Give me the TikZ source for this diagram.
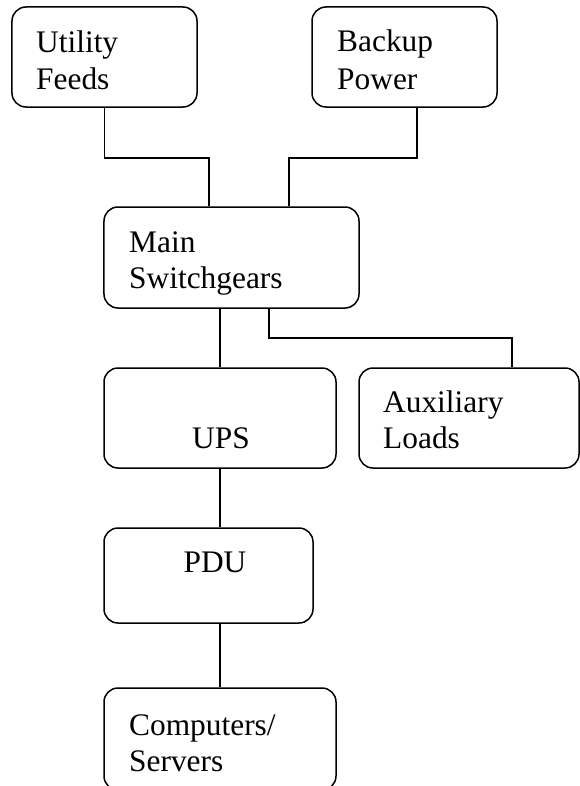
\documentclass[tikz,border=0pt]{standalone}
\usepackage{fontspec}
\setmainfont{Liberation Serif}
\begin{document}
\begin{tikzpicture}[x=1bp,y=-1bp,
  box/.style={draw=black, line width=1.5bp, rounded corners=14bp, rectangle, inner sep=0pt},
  lbl/.style={anchor=base west, inner sep=0pt, font=\fontsize{31.5}{37}\selectfont},
  clbl/.style={anchor=base, inner sep=0pt, font=\fontsize{31.5}{37}\selectfont},
  wire/.style={draw=black, line width=1.5bp}]
\useasboundingbox (0,0) rectangle (580,786);
\clip (0,0) rectangle (580,786);
% boxes
\node[box, minimum width=185bp, minimum height=100bp] (u) at (104.5,57) {};
\node[box, minimum width=185bp, minimum height=100bp] (b) at (404.5,57) {};
\node[box, minimum width=255bp, minimum height=101bp] (m) at (231.5,257.5) {};
\node[box, minimum width=232bp, minimum height=100bp] (ups) at (220,418) {};
\node[box, minimum width=220bp, minimum height=100bp] (aux) at (469,418) {};
\node[box, minimum width=209bp, minimum height=95bp] (pdu) at (208.5,575.5) {};
\node[box, minimum width=232bp, minimum height=102bp] (comp) at (220,739) {};
% labels
\node[lbl] (ut1) at (36,53) {Utility};
\node[lbl] (ut2) at (36,89) {Feeds};
\node[lbl] (bk1) at (337,52) {Backup};
\node[lbl] (bk2) at (337,89) {Power};
\node[lbl] (mn1) at (129,252) {Main};
\node[lbl] (mn2) at (129,288) {Switchgears};
\node[clbl] (up1) at (221,448) {UPS};
\node[lbl] (ax1) at (383,412) {Auxiliary};
\node[lbl] (ax2) at (383,448) {Loads};
\node[clbl] (pd1) at (215,572) {PDU};
\node[lbl] (cp1) at (129,735) {Computers/};
\node[lbl] (cp2) at (129,771) {Servers};
% junctions
\coordinate (ju) at (209,158);
\coordinate (bx) at (417,158);
\coordinate (jb) at (289,158);
\coordinate (ja) at (269,338);
\coordinate (jax) at (512,338);
% connectors
\draw[wire] (u.south) |- (ju) -- (ju |- m.north);
\draw[wire] (b.south -| bx) -- (bx) -- (jb) -- (jb |- m.north);
\draw[wire] (m.south -| ups.north) -- (ups.north);
\draw[wire] (m.south -| ja) -- (ja) -- (jax) -- (jax |- aux.north);
\draw[wire] (ups.south) -- (ups.south |- pdu.north);
\draw[wire] (pdu.south -| comp.north) -- (comp.north);
\end{tikzpicture}
\end{document}
